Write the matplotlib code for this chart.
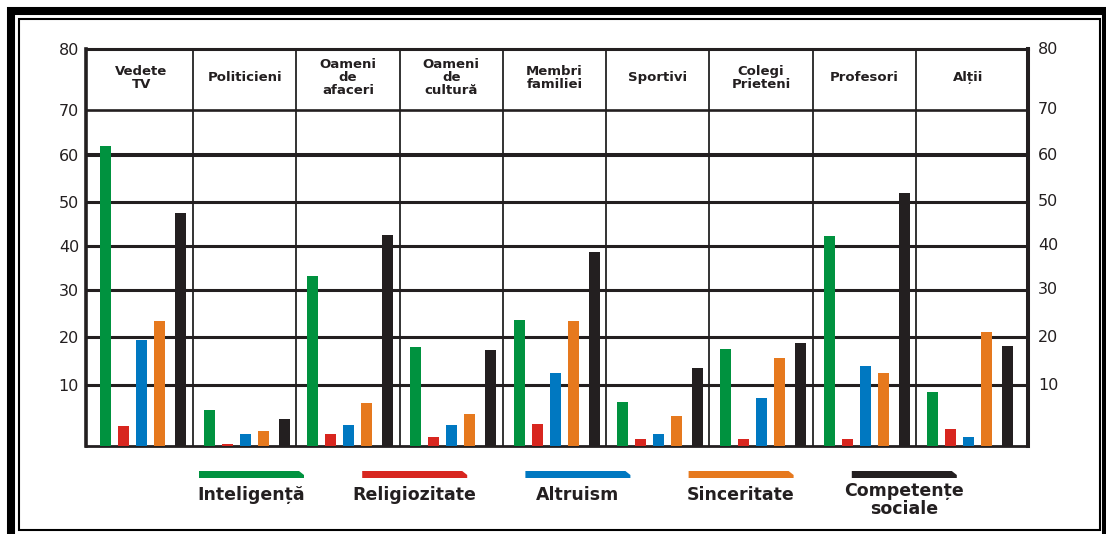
import numpy as np
import matplotlib.pyplot as plt
import matplotlib.patches as patches
import matplotlib.transforms as mtransforms

plt.rcParams['font.family'] = ['DejaVu Sans']

# Groups along the x axis (header row of the table)
categories = ['Vedete\nTV', 'Politicieni', 'Oameni\nde\nafaceri', 'Oameni\nde\ncultură',
              'Membri\nfamiliei', 'Sportivi', 'Colegi\nPrieteni', 'Profesori', 'Alții']

# Series (legend order) and their colours
series = ['Inteligență', 'Religiozitate', 'Altruism', 'Sinceritate', 'Competențe\nsociale']
colors = ['#00923f', '#d8261f', '#0078c1', '#e6791e', '#231f20']

inteligenta = [62.0, 5.9, 33.2, 17.9, 23.7, 7.2, 17.4, 42.3, 8.8]
religiozitate = [3.2, 0.3, 1.9, 1.4, 3.6, 1.1, 1.1, 1.1, 2.8]
altruism = [19.3, 2.0, 3.4, 3.4, 12.6, 2.0, 7.8, 14.0, 1.5]
sinceritate = [23.4, 2.5, 7.0, 5.2, 23.3, 4.9, 15.6, 12.5, 21.1]
competente = [47.4, 4.5, 42.5, 17.2, 38.6, 13.5, 18.7, 51.9, 18.1]
values = [inteligenta, religiozitate, altruism, sinceritate, competente]

tick_values = [0, 10, 20, 30, 40, 50, 60, 70, 80]

# The value axis is drawn with uneven rungs: height (px) of each tick above the baseline
rung_px = [0, 61, 109, 156, 200, 244, 291, 336, 397]


def forward(v):
    return np.interp(v, tick_values, rung_px)


def inverse(y):
    return np.interp(y, rung_px, tick_values)


W, H = 1106, 534
fig = plt.figure(figsize=(W / 100, H / 100), dpi=100, facecolor='white')


def fx(px):
    return px / W


def fy(py):
    return 1 - py / H


ink = '#231f20'

# plot box: left 86, right 1028, top 49, bottom 446 (pixels)
ax = fig.add_axes([fx(86), fy(446), fx(1028 - 86), (446 - 49) / H])
ax.set_yscale('function', functions=(forward, inverse))
ax.set_ylim(0, 80)
ax.set_xlim(-0.035, 9.083)

# bar layout inside each column (fractions of a column)
offsets = [0.158, 0.332, 0.506, 0.681, 0.884]
bar_w = 0.107
x = np.arange(len(categories))
for vals, off, c in zip(values, offsets, colors):
    ax.bar(x + off, vals, width=bar_w, color=c, zorder=3, linewidth=0)

# horizontal rules
for v in [10, 20, 30, 40, 50]:
    ax.axhline(v, color=ink, lw=2.2, zorder=2)
ax.axhline(60, color=ink, lw=2.9, zorder=2)
ax.axhline(70, color=ink, lw=1.9, zorder=2)

# column separators
for i in range(1, len(categories)):
    ax.axvline(i, color='#333333', lw=1.4, zorder=1)

for side, lw in [('left', 2.6), ('right', 2.9), ('top', 2.2), ('bottom', 2.0)]:
    ax.spines[side].set_linewidth(lw)
    ax.spines[side].set_color(ink)

ax.set_xticks([])
ax.set_yticks(tick_values[1:], [str(v) for v in tick_values[1:]])
ax.yaxis.set_minor_locator(plt.NullLocator())
ax.tick_params(axis='y', length=0, pad=5, labelsize=11.5, labelcolor=ink)

trans = mtransforms.blended_transform_factory(ax.transAxes, ax.transData)
for v in tick_values[1:]:
    ax.text(1 + 10 / 942, v, str(v), transform=trans, ha='left', va='center',
            fontsize=11.5, color=ink)

# header row
for i, name in enumerate(categories):
    ax.text(i + 0.5, 75.3, name, ha='center', va='center', fontsize=9.5,
            fontweight='bold', color=ink, linespacing=1.0)

# legend: chamfered swatches with the label underneath
for k, (name, c) in enumerate(zip(series, colors)):
    x0 = 199 + k * 163.2
    pts = [(x0, 478), (x0, 471), (x0 + 100, 471), (x0 + 105, 475), (x0 + 105, 478)]
    fig.add_artist(patches.Polygon([(fx(a), fy(b)) for a, b in pts], closed=True,
                                   facecolor=c, edgecolor='none', transform=fig.transFigure))
    ty = 500 if '\n' in name else 495
    fig.text(fx(x0 + 52), fy(ty), name, ha='center', va='center', fontsize=12.5,
             fontweight='bold', color=ink, linespacing=1.0)

# double frame round the figure
fig.add_artist(patches.Rectangle((fx(11), fy(538)), fx(1106 - 11), (538 - 11) / H,
                                 fill=False, edgecolor='black', lw=5.8,
                                 transform=fig.transFigure))
fig.add_artist(patches.Rectangle((fx(18.5), fy(530)), fx(1099.5 - 18.5), (530 - 18.5) / H,
                                 fill=False, edgecolor='black', lw=1.5,
                                 transform=fig.transFigure))

fig.savefig('out.png', dpi=100, facecolor='white')
